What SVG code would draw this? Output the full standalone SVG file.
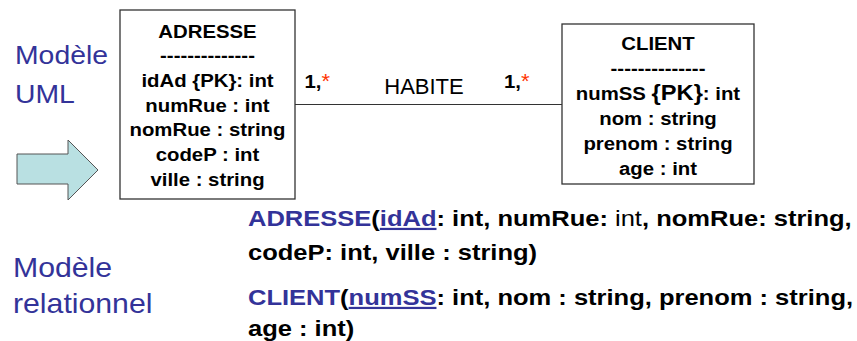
<svg xmlns="http://www.w3.org/2000/svg" width="857" height="341" viewBox="0 0 857 341">
  <style>
    text { font-family: "Liberation Sans", Arial, Helvetica, sans-serif; }
    .box { fill: #ffffff; stroke: #333333; stroke-width: 1.3; }
    .attr { font-size: 18.5px; font-weight: bold; fill: #000000; text-anchor: middle; }
    .pk { font-size: 21.5px; }
    .mult { font-size: 18.5px; font-weight: bold; fill: #000000; }
    .star { fill: #ff3300; font-size: 20px; font-weight: normal; }
    .label { font-size: 22px; fill: #000000; }
    .side { fill: #333399; }
    .rel { font-size: 22px; font-weight: bold; fill: #000000; }
    .blue { fill: #333399; }
    .key { fill: #333399; text-decoration: underline; }
    .light { font-weight: normal; }
    .conn { stroke: #333333; stroke-width: 1.2; fill: none; }
    .arrow { fill: #b9e0e2; stroke: #555555; stroke-width: 1; }
  </style>

  <g id="label-uml">
    <text class="side" font-size="26.5" transform="translate(15,64) scale(1.07,1)">Modèle</text>
    <text class="side" font-size="26.5" transform="translate(15,103) scale(1.07,1)">UML</text>
  </g>

  <g id="arrow">
    <polygon class="arrow" points="17,154 68,154 68,140 98,170 68,200 68,184 17,184"/>
  </g>

  <g id="connectors">
    <line class="conn" x1="295" y1="104.5" x2="562" y2="104.5"/>
    <text class="label" x="424" y="93.5" text-anchor="middle">HABITE</text>
    <text class="mult" transform="translate(304.5,88) scale(1.1,1)">1,<tspan class="star">*</tspan></text>
    <text class="mult" transform="translate(504,88) scale(1.1,1)">1,<tspan class="star">*</tspan></text>
  </g>

  <g id="node-adresse">
    <rect class="box" x="120" y="10" width="175" height="189"/>
    <text class="attr" transform="translate(207.5,37.5) scale(1.1,1)">ADRESSE</text>
    <text class="attr" transform="translate(207.5,62.2) scale(1.1,1)">--------------</text>
    <text class="attr" transform="translate(207.5,86.9) scale(1.1,1)">idAd {PK}: int</text>
    <text class="attr" transform="translate(207.5,111.6) scale(1.1,1)">numRue : int</text>
    <text class="attr" transform="translate(207.5,136.3) scale(1.1,1)">nomRue : string</text>
    <text class="attr" transform="translate(207.5,161) scale(1.1,1)">codeP : int</text>
    <text class="attr" transform="translate(207.5,185.7) scale(1.1,1)">ville : string</text>
  </g>

  <g id="node-client">
    <rect class="box" x="562" y="24" width="192" height="160"/>
    <text class="attr" transform="translate(658,50) scale(1.1,1)">CLIENT</text>
    <text class="attr" transform="translate(658,75) scale(1.1,1)">--------------</text>
    <text class="attr" transform="translate(658,100) scale(1.1,1)">numSS <tspan class="pk">{PK}</tspan>: int</text>
    <text class="attr" transform="translate(658,125) scale(1.1,1)">nom : string</text>
    <text class="attr" transform="translate(658,150) scale(1.1,1)">prenom : string</text>
    <text class="attr" transform="translate(658,175) scale(1.1,1)">age : int</text>
  </g>

  <g id="label-relationnel">
    <text class="side" font-size="28" transform="translate(13,277) scale(1.08,1)">Modèle</text>
    <text class="side" font-size="28" transform="translate(13,313) scale(1.08,1)">relationnel</text>
  </g>

  <g id="relational-schema">
    <text class="rel" transform="translate(248,226) scale(1.16,1)"><tspan class="blue">ADRESSE</tspan>(<tspan class="key">idAd</tspan>: int, numRue: <tspan class="light">int</tspan>, nomRue: string,</text>
    <text class="rel" transform="translate(248,260) scale(1.16,1)">codeP: int, ville : string)</text>
    <text class="rel" transform="translate(248,305) scale(1.16,1)"><tspan class="blue">CLIENT</tspan>(<tspan class="key">numSS</tspan>: int, nom : string, prenom : string,</text>
    <text class="rel" transform="translate(248,336) scale(1.16,1)">age : int)</text>
  </g>
</svg>
